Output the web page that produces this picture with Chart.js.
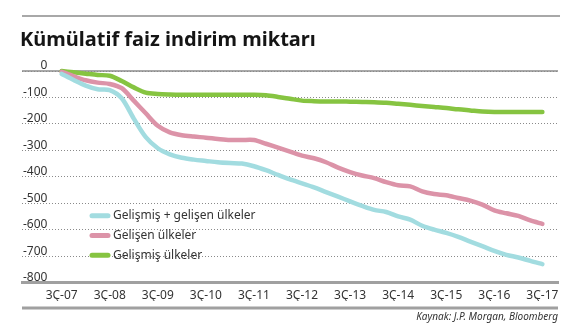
<!DOCTYPE html>
<html>
<head>
<meta charset="utf-8">
<script src="https://cdn.jsdelivr.net/npm/chart.js@4.4.1/dist/chart.umd.min.js"></script>
<style>
  html, body { margin: 0; padding: 0; background: #fff; }
  #wrap { width: 574px; height: 327px; position: relative; }
</style>
</head>
<body>
<div id="wrap"><canvas id="chart"></canvas></div>
<script>
// quarterly cumulative rate cuts (bps), 3Ç-07 .. 3Ç-17
const tickLabels = ['3Ç-07', '3Ç-08', '3Ç-09', '3Ç-10', '3Ç-11', '3Ç-12', '3Ç-13', '3Ç-14', '3Ç-15', '3Ç-16', '3Ç-17'];

const seriesNames = ['Gelişmiş + gelişen ülkeler', 'Gelişen ülkeler', 'Gelişmiş ülkeler'];

const toplam = [
  -11, -34, -55, -69, -72, -103, -180, -250, -292, -315,
  -328, -335, -340, -345, -348, -350, -360, -375, -393, -410,
  -425, -440, -458, -475, -493, -510, -525, -533, -550, -562,
  -585, -600, -612, -627, -645, -662, -680, -695, -705, -718,
  -730
];
const gelisen = [
  -3, -20, -35, -44, -49, -65, -112, -160, -207, -232,
  -243, -248, -252, -257, -261, -261, -261, -275, -290, -305,
  -320, -330, -345, -365, -382, -395, -405, -420, -432, -436,
  -455, -465, -470, -480, -490, -505, -527, -538, -548, -565,
  -578
];
const gelismis = [
  0, -5, -10, -15, -18, -38, -62, -82, -87, -89,
  -90, -90, -90, -90, -90, -90, -90, -92, -98, -105,
  -112, -114, -115, -115, -116, -117, -118, -120, -124, -128,
  -132, -136, -140, -145, -149, -153, -155, -155, -155, -155,
  -155
];

const colors = ['#a2dce0', '#dc93a8', '#86c441'];

function points(arr) {
  return arr.map((v, i) => ({ x: i, y: v }));
}

const fontFamily = '"Noto Sans", "DejaVu Sans", sans-serif';

// gray rules above the title, at zero and under the x labels, plus the inline legend
const decor = {
  id: 'decor',
  beforeDraw(chart) {
    const ctx = chart.ctx;
    const a = chart.chartArea;
    const y0 = chart.scales.y.getPixelForValue(0);
    ctx.save();
    ctx.strokeStyle = '#a8a8a8';
    ctx.lineWidth = 2;
    ctx.beginPath();
    ctx.moveTo(a.left, 16);
    ctx.lineTo(a.right + 2, 16);
    ctx.stroke();
    ctx.beginPath();
    ctx.moveTo(a.left, y0);
    ctx.lineTo(a.right, y0);
    ctx.stroke();
    ctx.strokeStyle = '#a0a0a0';
    ctx.lineWidth = 3;
    const yb = chart.scales.x.bottom + 7;
    ctx.beginPath();
    ctx.moveTo(a.left, yb);
    ctx.lineTo(a.right, yb);
    ctx.stroke();
    ctx.restore();
  },
  afterDatasetsDraw(chart) {
    const ctx = chart.ctx;
    const ys = chart.scales.y;
    const x0 = chart.chartArea.left + 70;
    ctx.save();
    ctx.font = '12px ' + fontFamily;
    ctx.textBaseline = 'middle';
    chart.data.datasets.forEach((ds, i) => {
      const y = ys.getPixelForValue(-547 - i * 75);
      ctx.strokeStyle = ds.borderColor;
      ctx.lineWidth = 5;
      ctx.lineCap = 'round';
      ctx.beginPath();
      ctx.moveTo(x0, y);
      ctx.lineTo(x0 + 16, y);
      ctx.stroke();
      ctx.fillStyle = '#333';
      ctx.fillText(ds.label, x0 + 21, y);
    });
    ctx.restore();
  }
};

new Chart(document.getElementById('chart'), {
  type: 'line',
  data: {
    datasets: [
      { label: seriesNames[0], data: points(toplam), borderColor: colors[0] },
      { label: seriesNames[1], data: points(gelisen), borderColor: colors[1] },
      { label: seriesNames[2], data: points(gelismis), borderColor: colors[2] }
    ]
  },
  options: {
    responsive: true,
    maintainAspectRatio: false,
    animation: false,
    layout: { padding: { left: 20, right: 16, top: 0, bottom: 4 } },
    elements: {
      point: { radius: 0 },
      line: { borderWidth: 4.5, tension: 0.3, borderCapStyle: 'round', borderJoinStyle: 'round' }
    },
    datasets: { line: { clip: false } },
    plugins: {
      legend: { display: false },
      tooltip: { enabled: false },
      title: {
        display: true,
        text: 'Kümülatif faiz indirim miktarı',
        align: 'start',
        color: '#151515',
        font: { family: fontFamily, size: 20, weight: 'bold' },
        padding: { top: 28, bottom: 19 }
      },
      subtitle: {
        display: true,
        position: 'bottom',
        align: 'end',
        text: 'Kaynak: J.P. Morgan, Bloomberg',
        color: '#333',
        font: { family: fontFamily, size: 10, style: 'italic' },
        padding: { top: 10, bottom: 0 }
      }
    },
    scales: {
      x: {
        type: 'linear',
        min: -3.3,
        max: 41.3,
        afterBuildTicks: (scale) => {
          scale.ticks = tickLabels.map((_, i) => ({ value: i * 4 }));
        },
        grid: { display: false },
        border: { display: true, color: '#a0a0a0', width: 3 },
        ticks: {
          autoSkip: false,
          maxRotation: 0,
          padding: -2,
          color: '#333',
          font: { family: fontFamily, size: 12 },
          callback: (v) => tickLabels[v / 4]
        }
      },
      y: {
        min: -800,
        max: 0,
        grid: { color: '#8a8a8a', lineWidth: 1, drawTicks: false },
        border: { display: false, dash: [1, 2] },
        ticks: {
          stepSize: 100,
          mirror: true,
          crossAlign: 'far',
          padding: 1,
          labelOffset: -5,
          color: '#333',
          font: { family: fontFamily, size: 12 }
        }
      }
    }
  },
  plugins: [decor]
});
</script>
</body>
</html>
